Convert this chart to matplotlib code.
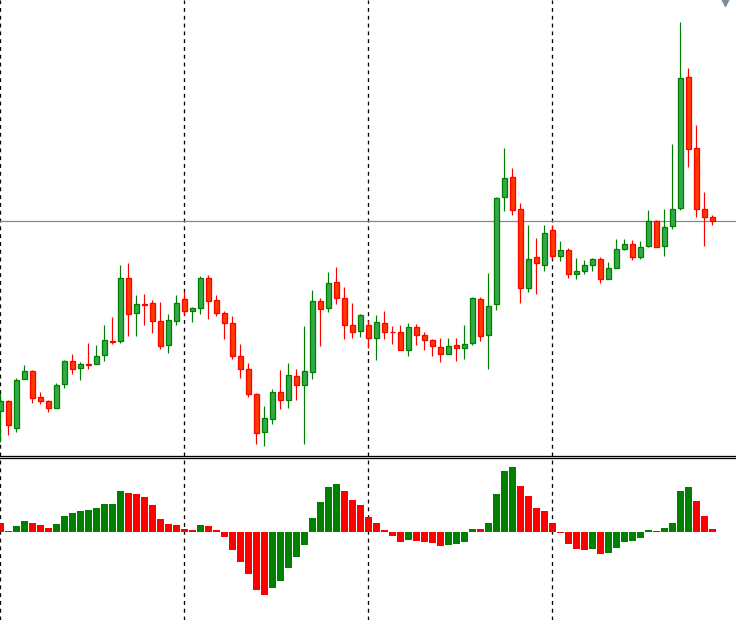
import numpy as np
import matplotlib
matplotlib.use("Agg")
import matplotlib.pyplot as plt
import matplotlib.transforms as mtransforms

# candles (price in chart points), one per bar
opens = [45, 55, 28, 77, 85, 59, 55, 48, 72, 95, 88, 92, 92, 101, 115, 115, 178, 143, 152, 153,
         135, 111, 135, 157, 145, 148, 178, 156, 143, 133, 100, 87, 62, 24, 37, 64, 56, 80, 71, 84,
         155, 148, 174, 158, 131, 125, 131, 118, 133, 124.5, 124, 106, 129, 121, 116, 109, 102, 111, 108, 113,
         157, 121, 152, 259, 279, 247, 168, 199, 191, 226, 200, 206, 182, 185, 191, 197, 177, 188, 207, 212,
         199, 210, 235, 210, 230, 248, 379, 308, 247, 239]
highs = [63, 56, 78, 91, 86, 64, 56, 73, 96, 102, 94, 113, 111, 131, 139, 191, 193, 161, 162, 156,
         154, 142, 161, 164, 149, 180, 181, 161, 145, 140, 112, 93, 63, 50, 67, 86, 93, 87, 130, 166,
         158, 184, 189, 169, 153, 142, 136, 141, 145, 130, 131, 133, 132, 124, 117, 118, 118, 118, 131, 159,
         159, 183, 259, 308, 288, 253, 231, 218, 231, 231, 215, 208, 198, 196, 198, 199, 194, 217, 217, 216,
         215, 246, 236, 247, 312, 434, 388, 331, 264, 241]
lows = [14, 21, 24, 77, 53, 52, 44, 48, 68, 82, 76, 87, 92, 95, 112, 113, 120, 120, 131, 123,
        107, 103, 131, 141, 134, 142, 137, 140, 117, 97, 78, 59, 12, 10, 32, 47, 48, 56, 12, 77,
        110, 144, 152, 117, 118, 119, 108, 96, 117, 112, 106, 100, 111, 106, 100, 94, 102, 95, 97, 111,
        115, 87, 146, 245, 241, 153, 164, 162, 185, 197, 195, 178, 177, 182, 185, 173, 177, 188, 206, 196,
        197, 209, 209, 200, 227, 246, 289, 239, 210, 231]
closes = [55, 31, 76, 85, 58, 55, 48, 71, 95, 87, 92, 91, 100, 116, 114, 178, 142, 152, 151, 135,
          110, 136, 153, 145, 148, 178, 155, 143, 133, 100, 87, 62, 23, 38, 64, 56, 81, 71, 85, 155,
          147, 173, 158, 131, 124, 141, 118, 134, 124, 124, 106, 129, 121, 116, 110, 102, 110, 108, 112, 158,
          120, 150, 258, 278, 246, 168, 197, 193, 223, 200, 206, 182, 185, 191, 197, 177, 188, 207, 212, 199,
          209, 235, 209, 229, 247, 378, 307, 247, 239, 235]

# oscillator histogram
ao = [27, 3, 18, 33, 27, 21, 12, 24, 48, 57, 63, 66, 72, 84, 85, 123, 117, 114, 105, 81,
      39, 24, 21, 9, 6, 21, 18, 6, -15, -54, -90, -126, -174, -189, -168, -147, -108, -75, -39, 42,
      90, 135, 144, 123, 96, 81, 45, 27, 6, -12, -30, -24, -27, -30, -33, -42, -39, -36, -30, 9,
      8.5, 27, 114, 183, 195, 138, 108, 72, 63, 27, -3, -36, -51, -54, -51, -66, -63, -48, -30, -27,
      -18, 6, 3, 12, 27, 123, 135, 93, 48, 9]

separators = [0, 23, 46, 69]

x = np.arange(len(opens))
o = np.array(opens, float)
h = np.array(highs, float)
l = np.array(lows, float)
c = np.array(closes, float)
up = c >= o

fig = plt.figure(figsize=(7.36, 6.2), dpi=100)
ax = fig.add_axes([0, 164 / 620, 1, 456 / 620])
ax2 = fig.add_axes([0, 0, 1, 162 / 620], sharex=ax)

px = 0.72  # one pixel in points

# wicks
ax.vlines(x[up], l[up], h[up], color="#008000", lw=1.2 * px, zorder=2)
ax.vlines(x[~up], l[~up], h[~up], color="#ff0000", lw=1.2 * px, zorder=2)
# bodies
ax.bar(x[up], c[up] - o[up], bottom=o[up], width=0.62, color="#33aa4a",
       edgecolor="#008000", linewidth=1.3 * px, zorder=3)
ax.bar(x[~up], o[~up] - c[~up], bottom=c[~up], width=0.62, color="#ff3a00",
       edgecolor="#ff0000", linewidth=1.3 * px, zorder=3)

# last price line
ax.axhline(closes[-1], color="#778899", lw=1.2 * px, zorder=1)

ax.set_xlim(-0.0625, 91.94)
ax.set_ylim(0, 456)

# shift marker
trans = mtransforms.blended_transform_factory(ax.transData, ax.transAxes)
ax.plot([90.6], [1.0], marker="v", color="#7f8c99", markersize=9, transform=trans,
        clip_on=False, zorder=5)

# oscillator
ao_arr = np.array(ao, float)
rising = np.r_[False, ao_arr[1:] > ao_arr[:-1]]
ax2.bar(x, ao_arr, width=0.86, color=np.where(rising, "#008000", "#ff0000"), linewidth=0)
ax2.set_ylim(-264, 222)

for a in (ax, ax2):
    for s in a.spines.values():
        s.set_visible(False)
    a.set_xticks([])
    a.set_yticks([])
    for sx in separators:
        a.axvline(sx, color="black", lw=1.3 * px, linestyle=(0, (3, 3)), zorder=0)

ax.spines["bottom"].set_visible(True)
ax.spines["bottom"].set_linewidth(1.3 * px)
ax2.spines["top"].set_visible(True)
ax2.spines["top"].set_linewidth(1.3 * px)

fig.savefig("out.png", dpi=100)
